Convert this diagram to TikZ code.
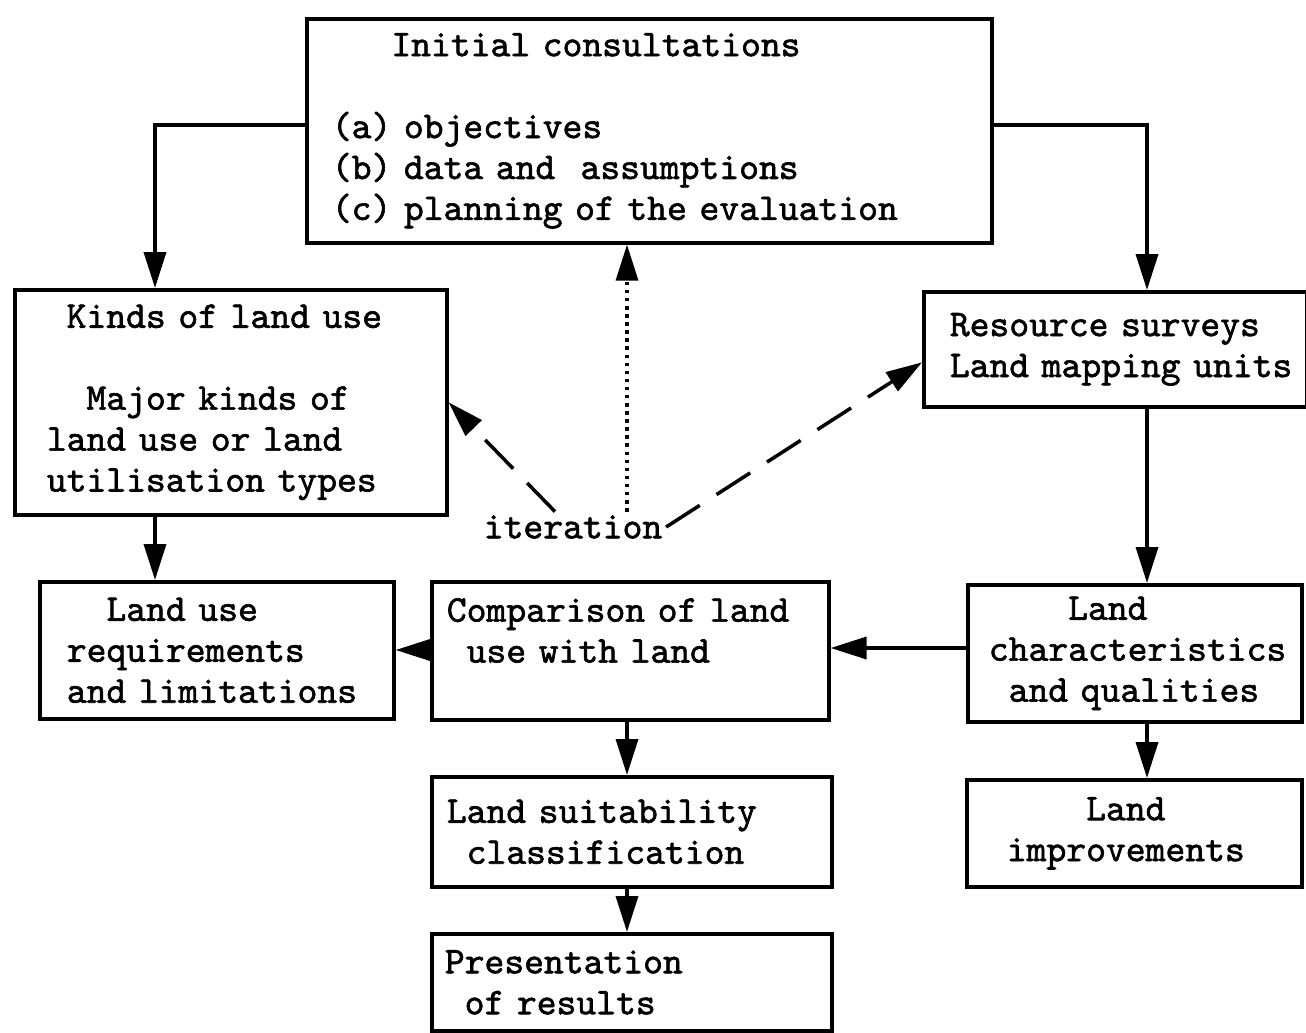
\documentclass[tikz,border=0pt]{standalone}
\usepackage{fontspec}
\setmainfont{lmmono10-regular.otf}[FakeBold=1.6]
\usetikzlibrary{arrows.meta}
\newcommand{\chars}[1]{\hspace*{#1\dimexpr0.525em\relax}}

\begin{document}
\begin{tikzpicture}[x=0.02cm, y=-0.02cm,
    box/.style={draw, line width=2.1pt, rectangle, anchor=north west, align=left,
      inner ysep=0pt, font=\fontsize{21.5}{23.3}\selectfont},
    flow/.style={line width=2pt, -{Triangle[length=0.72cm, width=0.44cm]}},
    iterflow/.style={flow, dash pattern=on 0.8cm off 0.4cm},
    dotflow/.style={flow, dash pattern=on 2pt off 2.6pt}]
  \useasboundingbox (0,0) rectangle (1306,1032);

  % Columns of the vertical connectors
  \coordinate (lcol) at (155,0);
  \coordinate (mcol) at (627,0);
  \coordinate (rcol) at (1147,0);

  % Initial consultations
  \node[box, minimum width=13.7cm, minimum height=4.48cm, inner xsep=0.5cm, text width=12.7cm] (init) at (305,17)
    {\chars{3}Initial consultations\\[\baselineskip]
     (a) objectives\\
     (b) data and\ \ assumptions\\
     (c) planning of the evaluation};

  % Kinds of land use
  \node[box, minimum width=8.64cm, minimum height=4.5cm, inner xsep=0.64cm, text width=7.36cm] (kinds) at (13,288)
    {\chars{1}Kinds of land use\\[\baselineskip]
     \chars{2}Major kinds of\\
     land use or land\\
     utilisation types};

  % Resource surveys
  \node[box, minimum width=7.66cm, minimum height=2.3cm, inner xsep=0.52cm, text width=6.62cm] (res) at (922,290)
    {Resource surveys\\
     \mbox{Land mapping units}};

  % Second row
  \node[box, minimum width=7.08cm, minimum height=2.74cm, inner xsep=0.54cm, text width=6cm] (req) at (38,580)
    {\chars{2}Land use\\
     requirements\\
     and limitations};
  \node[box, minimum width=7.94cm, minimum height=2.76cm, inner xsep=0.3cm, text width=7.34cm] (cmp) at (430,580)
    {Comparison of land\\
     \chars{1}use with land\\
     \mbox{}};
  \node[box, minimum width=6.68cm, minimum height=2.74cm, inner xsep=0.42cm, text width=5.84cm] (char) at (966,583)
    {\chars{4}Land\\
     \mbox{characteristics}\\
     \chars{1}and qualities};

  % Lower boxes
  \node[box, minimum width=8cm, minimum height=2.2cm, inner xsep=0.3cm, text width=7.4cm] (suit) at (430,775)
    {Land suitability\\
     \chars{1}classification};
  \node[box, minimum width=8cm, minimum height=1.94cm, inner xsep=0.26cm, text width=7.48cm] (pres) at (430,932)
    {Presentation\\
     \chars{1}of results};
  \node[box, minimum width=6.7cm, minimum height=2.14cm, inner xsep=0.8cm, text width=5.1cm] (impr) at (965,778)
    {\chars{4}Land\\
     improvements};

  % Iteration label
  \node[font=\fontsize{21.5}{23.3}\selectfont, inner sep=2pt] (iter) at (573,527) {iteration};

  % Main flow
  \draw[flow] (init.west |- 0,125) -| (kinds.north -| lcol);
  \draw[flow] (init.east |- 0,125) -| (res.north -| rcol);
  \draw[flow] (kinds.south -| lcol) -- (req.north -| lcol);
  \draw[flow] (res.south -| rcol) -- (char.north -| rcol);
  \draw[flow] (char.south -| rcol) -- (impr.north -| rcol);
  \draw[flow] (char.west |- 0,648) -- (cmp.east |- 0,648);
  \draw[flow] (cmp.west |- 0,650) -- (req.east |- 0,650);
  \draw[flow] (cmp.south -| mcol) -- (suit.north -| mcol);
  \draw[flow] (suit.south -| mcol) -- (pres.north -| mcol);

  % Iteration feedback
  \draw[iterflow] ([xshift=-0.36cm]iter.north) -- (kinds.east);
  \draw[iterflow] (iter.east) -- ([yshift=-0.26cm]res.west);
  \draw[dotflow] (iter.north -| mcol) -- (init.south -| mcol);
\end{tikzpicture}
\end{document}
